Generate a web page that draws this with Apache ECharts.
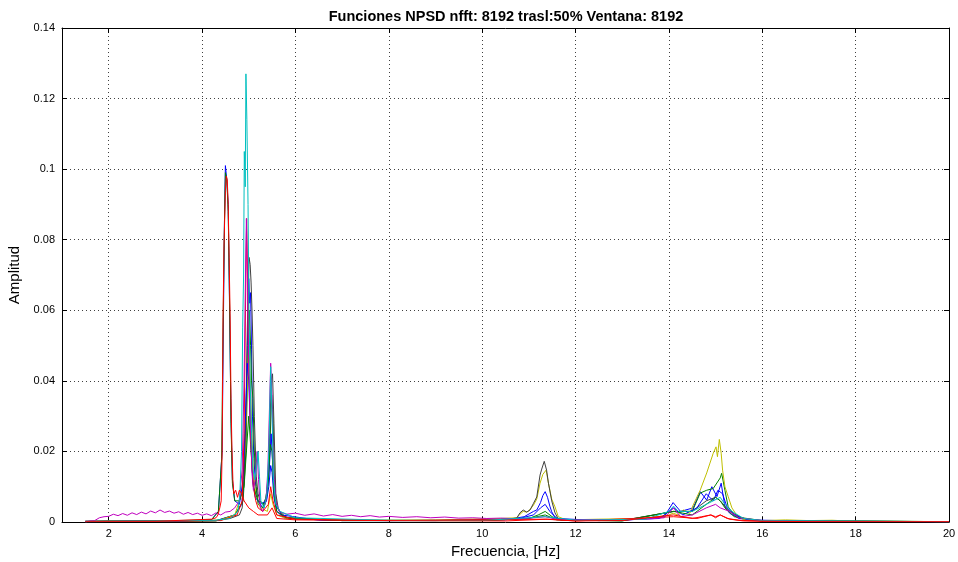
<!DOCTYPE html>
<html>
<head>
<meta charset="utf-8">
<script src="https://cdn.jsdelivr.net/npm/echarts@6/dist/echarts.min.js"></script>
<style>html,body{margin:0;padding:0;background:#fff;}#c{width:958px;height:562px;}</style>
</head>
<body>
<div id="c"></div>
<script>
// ---- tick labels ----
const xTickValues = [2, 4, 6, 8, 10, 12, 14, 16, 18, 20];
const yTickValues = [0, 0.02, 0.04, 0.06, 0.08, 0.1, 0.12, 0.14];

// ---- series data (frequency [Hz], amplitude) ----
const blue2F = [1.5, 3, 4.3, 4.7, 4.85, 4.9, 4.94, 4.97, 5.0, 5.02, 5.04, 5.06, 5.08, 5.11, 5.15, 5.2, 5.3, 5.38, 5.43, 5.47, 5.5, 5.54, 5.6, 5.75, 7, 9, 10.5, 10.9, 11.1, 11.17, 11.25, 11.3, 11.35, 11.4, 11.45, 11.49, 11.55, 11.7, 13, 13.9, 14.09, 14.25, 14.52, 14.67, 14.81, 14.92, 15.03, 15.12, 15.2, 15.3, 15.5, 16, 20];
const blue2A = [0.0001, 0.0002, 0.0004, 0.002, 0.005, 0.012, 0.03, 0.05, 0.069, 0.062, 0.065, 0.049, 0.03, 0.018, 0.01, 0.006, 0.004, 0.006, 0.01, 0.016, 0.014, 0.007, 0.003, 0.0012, 0.0004, 0.0004, 0.0006, 0.0015, 0.003, 0.0034, 0.0055, 0.0075, 0.0086, 0.007, 0.0045, 0.0029, 0.0015, 0.0005, 0.0004, 0.0015, 0.0055, 0.003, 0.004, 0.0086, 0.0062, 0.01, 0.0072, 0.011, 0.0043, 0.0025, 0.001, 0.0003, 0.0001];

const green2F = [1.5, 3, 4.3, 4.7, 4.88, 4.94, 4.98, 5.01, 5.04, 5.06, 5.09, 5.12, 5.16, 5.2, 5.3, 5.4, 5.45, 5.49, 5.52, 5.55, 5.6, 5.8, 7, 10, 11.0, 11.2, 11.35, 11.5, 11.7, 13, 14.1, 14.5, 14.67, 14.81, 14.95, 15.1, 15.13, 15.2, 15.27, 15.4, 15.6, 16, 20];
const green2A = [0.0001, 0.0002, 0.0003, 0.002, 0.006, 0.02, 0.045, 0.06, 0.05, 0.04, 0.035, 0.02, 0.01, 0.005, 0.004, 0.008, 0.02, 0.036, 0.03, 0.012, 0.004, 0.0012, 0.0004, 0.0004, 0.001, 0.002, 0.003, 0.0015, 0.0005, 0.0004, 0.003, 0.003, 0.0082, 0.009, 0.0095, 0.0125, 0.0138, 0.009, 0.0043, 0.002, 0.0008, 0.0003, 0.0001];

const yellowF = [1.5, 2.0, 2.5, 3.0, 3.5, 4.0, 4.4, 4.7, 4.85, 4.92, 4.97, 5.0, 5.03, 5.06, 5.1, 5.15, 5.25, 5.4, 5.47, 5.52, 5.6, 5.8, 7, 9, 10.4, 10.74, 10.81, 10.88, 10.955, 11.025, 11.10, 11.17, 11.24, 11.3, 11.37, 11.42, 11.49, 11.56, 11.63, 11.8, 12.5, 13.5, 14.0, 14.09, 14.2, 14.31, 14.45, 14.52, 14.67, 14.81, 14.88, 14.95, 15.01, 15.04, 15.08, 15.12, 15.15, 15.20, 15.27, 15.35, 15.45, 15.59, 15.74, 16.0, 16.5, 17.0, 17.5, 17.8, 20];
const yellowA = [0.0001, 0.0004, 0.0003, 0.0004, 0.0003, 0.0004, 0.0006, 0.002, 0.008, 0.02, 0.04, 0.05, 0.042, 0.028, 0.014, 0.008, 0.004, 0.003, 0.008, 0.005, 0.002, 0.001, 0.0005, 0.0006, 0.001, 0.0012, 0.0022, 0.003, 0.0028, 0.0035, 0.0048, 0.0065, 0.011, 0.0135, 0.0147, 0.011, 0.0065, 0.0043, 0.0015, 0.0006, 0.0008, 0.001, 0.002, 0.0025, 0.002, 0.0034, 0.0025, 0.0048, 0.009, 0.0139, 0.0167, 0.0195, 0.0213, 0.0185, 0.0234, 0.0195, 0.0147, 0.01, 0.0072, 0.004, 0.002, 0.0008, 0.0005, 0.0004, 0.0006, 0.0004, 0.0005, 0.0003, 0.0001];

const blackF = [1.5, 3, 4.3, 4.6, 4.8, 4.86, 4.9, 4.94, 4.97, 5.006, 5.03, 5.05, 5.07, 5.09, 5.12, 5.16, 5.2, 5.24, 5.31, 5.37, 5.41, 5.45, 5.48, 5.51, 5.54, 5.58, 5.63, 5.71, 5.88, 7, 9, 10.4, 10.74, 10.81, 10.88, 10.955, 11.025, 11.10, 11.17, 11.24, 11.276, 11.33, 11.38, 11.42, 11.49, 11.56, 11.63, 11.8, 13, 14.1, 14.5, 14.8, 15.0, 15.1, 15.3, 15.6, 16, 20];
const blackA = [0.0001, 0.0002, 0.0004, 0.001, 0.002, 0.004, 0.012, 0.03, 0.055, 0.075, 0.073, 0.068, 0.06, 0.05, 0.03, 0.013, 0.008, 0.006, 0.005, 0.007, 0.012, 0.025, 0.04, 0.042, 0.028, 0.008, 0.004, 0.002, 0.001, 0.0005, 0.0004, 0.0007, 0.0011, 0.0026, 0.0034, 0.0028, 0.0034, 0.0053, 0.0071, 0.0133, 0.015, 0.0172, 0.0147, 0.011, 0.006, 0.0026, 0.0009, 0.0005, 0.0004, 0.003, 0.003, 0.006, 0.007, 0.006, 0.003, 0.001, 0.0003, 0.0001];

const blue1F = [1.5, 2.5, 3.5, 4.2, 4.35, 4.43, 4.46, 4.48, 4.50, 4.53, 4.56, 4.59, 4.62, 4.65, 4.7, 4.8, 4.88, 4.93, 4.97, 5.0, 5.04, 5.08, 5.14, 5.25, 5.38, 5.44, 5.48, 5.52, 5.58, 5.7, 6.5, 8, 10, 10.8, 11.1, 11.25, 11.35, 11.45, 11.6, 12.5, 13.8, 14.1, 14.3, 14.6, 14.8, 14.95, 15.05, 15.15, 15.25, 15.4, 15.7, 17, 20];
const blue1A = [0.0002, 0.0003, 0.0003, 0.0006, 0.003, 0.02, 0.06, 0.085, 0.101, 0.097, 0.09, 0.06, 0.03, 0.012, 0.006, 0.005, 0.012, 0.03, 0.045, 0.04, 0.025, 0.012, 0.007, 0.005, 0.006, 0.015, 0.025, 0.015, 0.005, 0.002, 0.0005, 0.0004, 0.0005, 0.001, 0.002, 0.004, 0.005, 0.003, 0.001, 0.0004, 0.001, 0.004, 0.002, 0.004, 0.008, 0.006, 0.009, 0.008, 0.004, 0.002, 0.0006, 0.0002, 0.0001];

const green1F = [1.5, 3, 4.2, 4.35, 4.42, 4.45, 4.48, 4.50, 4.53, 4.56, 4.59, 4.62, 4.65, 4.7, 4.8, 4.9, 4.95, 5.0, 5.04, 5.1, 5.2, 5.35, 5.42, 5.46, 5.5, 5.54, 5.6, 5.8, 7, 10, 11, 11.35, 11.6, 13, 14.1, 14.5, 14.8, 15.0, 15.1, 15.2, 15.4, 16, 20];
const green1A = [0.0002, 0.0003, 0.0006, 0.003, 0.018, 0.055, 0.085, 0.099, 0.097, 0.088, 0.062, 0.028, 0.011, 0.006, 0.006, 0.01, 0.02, 0.03, 0.022, 0.01, 0.006, 0.005, 0.012, 0.022, 0.02, 0.008, 0.003, 0.0012, 0.0004, 0.0004, 0.001, 0.002, 0.0006, 0.0003, 0.003, 0.002, 0.005, 0.007, 0.006, 0.004, 0.0015, 0.0004, 0.0001];

const red2F = [1.5, 3, 4.4, 4.75, 4.86, 4.9, 4.93, 4.955, 4.98, 5.0, 5.03, 5.06, 5.1, 5.15, 5.2, 5.3, 5.42, 5.47, 5.52, 5.6, 6, 8, 11.35, 12, 14.1, 14.6, 14.9, 15.0, 15.1, 15.25, 15.5, 16, 20];
const red2A = [0.0001, 0.0002, 0.0004, 0.002, 0.006, 0.025, 0.06, 0.086, 0.065, 0.045, 0.03, 0.018, 0.01, 0.006, 0.004, 0.003, 0.005, 0.01, 0.006, 0.002, 0.0008, 0.0004, 0.0008, 0.0003, 0.0015, 0.001, 0.002, 0.0015, 0.002, 0.001, 0.0005, 0.0002, 0.0001];

const magentaF = [1.5, 1.6, 1.7, 1.8, 1.9, 2.0, 2.1, 2.2, 2.3, 2.4, 2.5, 2.6, 2.7, 2.8, 2.9, 3.0, 3.1, 3.2, 3.3, 3.4, 3.5, 3.6, 3.7, 3.8, 3.9, 4.0, 4.1, 4.2, 4.3, 4.4, 4.5, 4.6, 4.7, 4.8, 4.86, 4.9, 4.93, 4.95, 4.97, 5.0, 5.03, 5.07, 5.1, 5.14, 5.18, 5.21, 5.25, 5.3, 5.37, 5.41, 5.44, 5.47, 5.5, 5.53, 5.58, 5.65, 5.8, 6.0, 6.2, 6.4, 6.6, 6.8, 7.0, 7.2, 7.4, 7.6, 7.8, 8.0, 8.3, 8.6, 8.9, 9.2, 9.5, 9.8, 10.1, 10.4, 10.8, 11.1, 11.35, 11.6, 12, 12.5, 13, 13.5, 13.9, 14.1, 14.25, 14.5, 14.8, 15.0, 15.1, 15.3, 15.5, 16, 17, 20];
const magentaA = [0, 0.0003, 0.0004, 0.0012, 0.0015, 0.0016, 0.0022, 0.0018, 0.0024, 0.0019, 0.0026, 0.0021, 0.0028, 0.0023, 0.0031, 0.0026, 0.0034, 0.0027, 0.0031, 0.0025, 0.0029, 0.0022, 0.0027, 0.0021, 0.0025, 0.0019, 0.0023, 0.0018, 0.0026, 0.002, 0.0028, 0.003, 0.004, 0.006, 0.015, 0.04, 0.07, 0.086, 0.07, 0.045, 0.03, 0.015, 0.009, 0.012, 0.02, 0.012, 0.004, 0.003, 0.006, 0.015, 0.03, 0.045, 0.035, 0.015, 0.006, 0.003, 0.0022, 0.0025, 0.0019, 0.0023, 0.0017, 0.0021, 0.0016, 0.0019, 0.0015, 0.0018, 0.0014, 0.0016, 0.0013, 0.0015, 0.0012, 0.0014, 0.0011, 0.0012, 0.001, 0.0011, 0.0009, 0.0012, 0.0015, 0.0008, 0.0006, 0.0007, 0.0006, 0.0008, 0.0012, 0.004, 0.0015, 0.002, 0.004, 0.005, 0.004, 0.003, 0.0012, 0.0004, 0.0002, 0.0001];

const cyanF = [1.5, 3, 4.3, 4.6, 4.77, 4.81, 4.845, 4.87, 4.89, 4.905, 4.925, 4.94, 4.96, 4.985, 5.005, 5.03, 5.06, 5.09, 5.13, 5.18, 5.2, 5.23, 5.26, 5.33, 5.39, 5.43, 5.47, 5.5, 5.53, 5.58, 5.67, 6, 8, 10, 11.35, 12, 13.5, 14.0, 14.1, 14.2, 14.5, 14.8, 14.95, 15.1, 15.2, 15.35, 15.6, 16, 20];
const cyanA = [0.0002, 0.0003, 0.0005, 0.001, 0.003, 0.008, 0.02, 0.055, 0.07, 0.105, 0.095, 0.127, 0.114, 0.09, 0.06, 0.04, 0.025, 0.015, 0.012, 0.017, 0.02, 0.013, 0.006, 0.004, 0.008, 0.02, 0.044, 0.03, 0.012, 0.005, 0.003, 0.0012, 0.0005, 0.0004, 0.0015, 0.0005, 0.0008, 0.003, 0.0045, 0.003, 0.003, 0.005, 0.006, 0.007, 0.005, 0.003, 0.001, 0.0004, 0.0001];

const red1F = [1.5, 3, 4.2, 4.3, 4.34, 4.38, 4.41, 4.43, 4.45, 4.47, 4.50, 4.52, 4.54, 4.56, 4.58, 4.60, 4.62, 4.64, 4.66, 4.68, 4.72, 4.76, 4.8, 4.85, 4.9, 5.0, 5.1, 5.2, 5.4, 5.5, 5.6, 6, 8, 10.5, 11.4, 12, 13, 14.1, 14.5, 14.7, 14.9, 15.0, 15.1, 15.3, 15.6, 17, 20];
const red1A = [0.0002, 0.0002, 0.0008, 0.0012, 0.002, 0.004, 0.006, 0.02, 0.058, 0.078, 0.094, 0.098, 0.097, 0.09, 0.075, 0.059, 0.035, 0.021, 0.012, 0.008, 0.009, 0.007, 0.009, 0.008, 0.006, 0.004, 0.003, 0.002, 0.002, 0.004, 0.001, 0.0006, 0.0004, 0.0003, 0.0008, 0.0003, 0.0004, 0.002, 0.001, 0.0015, 0.002, 0.0012, 0.002, 0.0008, 0.0003, 0.0001, 0.0001];

const seriesDefs = [
  ['blue2', blue2F, blue2A, '#0000ff'],
  ['green2', green2F, green2A, '#008000'],
  ['yellow', yellowF, yellowA, '#bfbf00'],
  ['black', blackF, blackA, '#404040'],
  ['blue1', blue1F, blue1A, '#0000ff'],
  ['green1', green1F, green1A, '#008000'],
  ['red2', red2F, red2A, '#ff0000'],
  ['magenta', magentaF, magentaA, '#bf00bf'],
  ['cyan', cyanF, cyanA, '#00bfbf'],
  ['red1', red1F, red1A, '#ff0000']
];

const FONT = 'Liberation Sans, Arial, Helvetica, sans-serif';
const chart = echarts.init(document.getElementById('c'), null, {renderer: 'canvas'});

const axisLineStyle = {color: '#000', width: 1};
const gridLine = {show: true, lineStyle: {color: '#000', type: [1, 3], width: 1, opacity: 0.75}};

chart.setOption({
  animation: false,
  backgroundColor: '#fff',
  title: {
    text: 'Funciones NPSD nfft: 8192 trasl:50% Ventana: 8192',
    left: 501, top: 4, textAlign: 'center',
    textStyle: {fontFamily: FONT, fontSize: 14.5, fontWeight: 'bold', color: '#000'}
  },
  grid: {left: 62, right: 9, top: 28, bottom: 40, containLabel: false, outerBoundsMode: 'none'},
  xAxis: [
    {
      type: 'value', min: 1, max: 20, position: 'bottom',
      name: 'Frecuencia, [Hz]', nameLocation: 'middle', nameGap: 19,
      nameTextStyle: {fontFamily: FONT, fontSize: 15, color: '#000'},
      axisLine: {show: true, onZero: false, lineStyle: axisLineStyle},
      axisTick: {show: true, inside: true, length: 5, customValues: xTickValues, lineStyle: axisLineStyle},
      axisLabel: {customValues: xTickValues, fontFamily: FONT, fontSize: 11, color: '#000', margin: 6},
      splitLine: gridLine
    },
    {
      type: 'value', min: 1, max: 20, position: 'top',
      axisLine: {show: true, onZero: false, lineStyle: axisLineStyle},
      axisTick: {show: true, inside: true, length: 5, customValues: xTickValues, lineStyle: axisLineStyle},
      axisLabel: {show: false},
      splitLine: {show: false}
    }
  ],
  yAxis: [
    {
      type: 'value', min: 0, max: 0.14, interval: 0.02, position: 'left',
      name: 'Amplitud', nameLocation: 'middle', nameGap: 36, nameRotate: 90,
      nameTextStyle: {fontFamily: FONT, fontSize: 15, color: '#000'},
      axisLine: {show: true, onZero: false, lineStyle: axisLineStyle},
      axisTick: {show: true, inside: true, length: 5, lineStyle: axisLineStyle},
      axisLabel: {fontFamily: FONT, fontSize: 11, color: '#000', margin: 7,
        formatter: function (v) { return String(+v.toFixed(2)); }},
      splitLine: gridLine
    },
    {
      type: 'value', min: 0, max: 0.14, interval: 0.02, position: 'right',
      axisLine: {show: true, onZero: false, lineStyle: axisLineStyle},
      axisTick: {show: true, inside: true, length: 5, lineStyle: axisLineStyle},
      axisLabel: {show: false},
      splitLine: {show: false}
    }
  ],
  series: seriesDefs.map(function (d) {
    return {
      name: d[0], type: 'line', xAxisIndex: 0, yAxisIndex: 0,
      data: d[1].map(function (f, i) { return [f, d[2][i]]; }),
      showSymbol: false, symbol: 'none',
      lineStyle: {color: d[3], width: 1},
      itemStyle: {color: d[3]},
      emphasis: {disabled: true},
      z: 3
    };
  })
});
</script>
</body>
</html>
